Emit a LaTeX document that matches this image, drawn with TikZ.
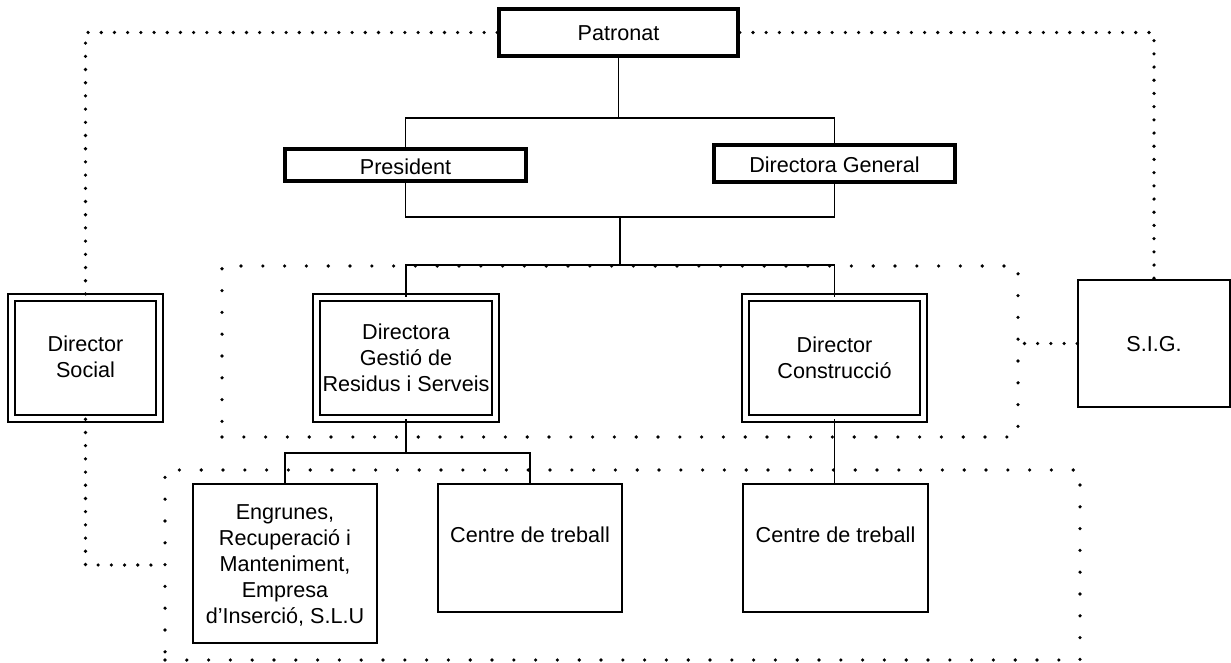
\documentclass[tikz,border=0pt]{standalone}
\usepackage{fontspec}
\setmainfont{Liberation Sans}
\usetikzlibrary{fit}
\begin{document}
\begin{tikzpicture}[x=0.5pt,y=-0.5pt,
  every node/.style={font=\fontsize{10.8}{13}\selectfont, align=center, inner sep=0pt},
  thickbox/.style={draw, line width=1.75pt},
  dblbox/.style={draw, double, line width=0.75pt, double distance=2.75pt},
  plainbox/.style={draw, line width=0.75pt},
  grpbox/.style={draw, line width=1.8pt, line cap=round, dash pattern=on 0pt off 10.9pt},
  conn/.style={line width=0.75pt},
  dotc/.style={line width=1.8pt, line cap=round, dash pattern=on 0pt off 6.6pt}]
\useasboundingbox (0,0) rectangle (1231,663);

% dotted group frames
\node[grpbox, fit={(222,266) (1018,437)}] (grp1) {};
\node[grpbox, fit={(165,470) (1080,660)}] (grp2) {};

% boxes
\node[thickbox, fit={(499,9) (738,56)}] (pat) {};
\node[thickbox, fit={(285,149) (526,181)}] (pres) {};
\node[thickbox, fit={(714,145) (955,182)}] (dg) {};
\node[dblbox, fit={(11.5,297.5) (159.5,418.5)}] (ds) {};
\node[dblbox, fit={(316.5,297.5) (495.5,418.5)}] (dgr) {};
\node[dblbox, fit={(745.5,297.5) (923.5,418.5)}] (dc) {};
\node[plainbox, fit={(1078,280) (1230,407)}] (sig) {};
\node[plainbox, fit={(193,484) (377,643)}] (eng) {};
\node[plainbox, fit={(438,484) (622,612)}] (c1) {};
\node[plainbox, fit={(743,484) (928,612)}] (c2) {};

% texts
\node (patt) at (618.5,33) {Patronat};
\node (prest) at (405.5,167) {President};
\node (dgt) at (834.5,165) {Directora General};
\node (dst) at (85.5,357) {Director\\Social};
\node (dgrt) at (406,358) {Directora\\Gestió de\\Residus i Serveis};
\node (dct) at (834.5,358) {Director\\Construcció};
\node (sigt) at (1154,344) {S.I.G.};
\node (engt) at (285,565) {Engrunes,\\Recuperació i\\Manteniment,\\Empresa\\d’Inserció, S.L.U};
\node (c1t) at (530,535) {Centre de treball};
\node (c2t) at (835.5,535) {Centre de treball};

% solid connectors
\coordinate (j1) at (618.5,118);
\coordinate (j2) at (620,217);
\coordinate (j3) at (620,265);
\coordinate (j4) at (406,453);
\draw[conn] (pat.south) -- (j1);
\draw[conn] (pres.north) |- (j1) -| (dg.north);
\draw[conn] (pres.south) |- (j2) -| (dg.south);
\draw[conn] (j2) -- (j3);
\draw[conn] (dgr.north) |- (j3) -| (dc.north);
\draw[conn] (dgr.south) -- (j4);
\draw[conn] (eng.north) |- (j4) -| (c1.north);
\draw[conn] (dc.south) -- (dc.south |- c2.north);

% dotted connectors
\draw[dotc] (pat.west) -| (ds.north);
\draw[dotc] (pat.east) -| (sig.north);
\draw[dotc] (ds.south) |- (grp2.west);
\draw[dotc] (sig.west) -- (sig.west -| grp1.east);
\end{tikzpicture}
\end{document}
